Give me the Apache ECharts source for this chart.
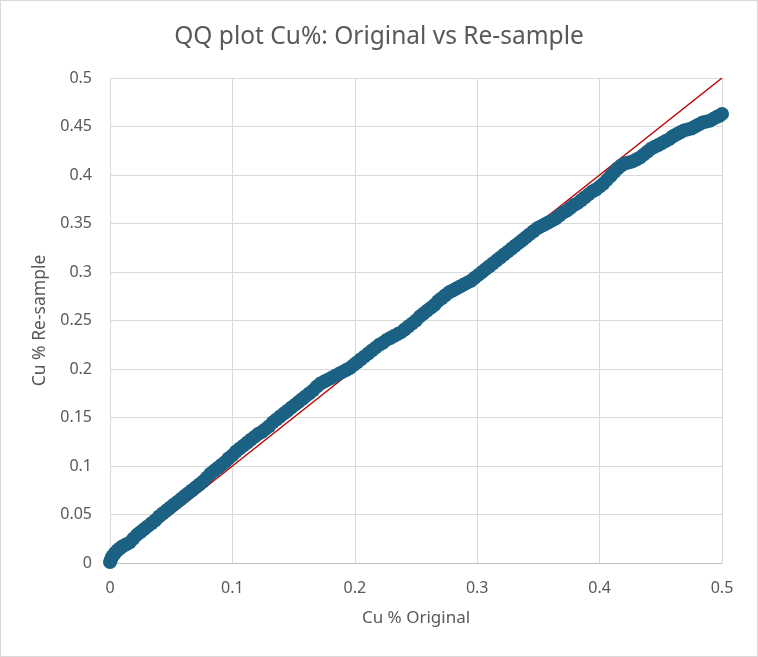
<!DOCTYPE html>
<html>
<head>
<meta charset="utf-8">
<title>QQ plot Cu%</title>
<script src="https://cdn.jsdelivr.net/npm/echarts@6/dist/echarts.min.js"></script>
<style>
    html, body { margin: 0; padding: 0; background: #fff; }
    #frame { position: absolute; left: 0; top: 0; width: 758px; height: 657px; box-sizing: border-box; border: 1px solid #d9d9d9; }
    #chart { width: 756px; height: 655px; }
</style>
</head>
<body>
<div id="frame"><div id="chart"></div></div>
<script>
/*分位数 - 原样 Cu%*/
var cuOriginal = [
    0.000, 0.001, 0.002, 0.004, 0.006, 0.008, 0.010, 0.013, 0.016, 0.019,
    0.022, 0.025, 0.028, 0.031, 0.034, 0.037, 0.040, 0.043, 0.046, 0.049,
    0.052, 0.055, 0.058, 0.061, 0.064, 0.067, 0.070, 0.073, 0.076, 0.079,
    0.082, 0.085, 0.088, 0.091, 0.094, 0.097, 0.100, 0.103, 0.106, 0.109,
    0.112, 0.115, 0.118, 0.121, 0.124, 0.127, 0.130, 0.133, 0.136, 0.139,
    0.142, 0.145, 0.148, 0.151, 0.154, 0.157, 0.160, 0.163, 0.166, 0.169,
    0.172, 0.175, 0.178, 0.181, 0.184, 0.187, 0.190, 0.193, 0.196, 0.199,
    0.202, 0.205, 0.208, 0.211, 0.214, 0.217, 0.220, 0.223, 0.226, 0.229,
    0.232, 0.235, 0.238, 0.241, 0.244, 0.247, 0.250, 0.253, 0.256, 0.259,
    0.262, 0.265, 0.268, 0.271, 0.274, 0.277, 0.280, 0.283, 0.286, 0.289,
    0.292, 0.295, 0.298, 0.301, 0.304, 0.307, 0.310, 0.313, 0.316, 0.319,
    0.322, 0.325, 0.328, 0.331, 0.334, 0.337, 0.340, 0.343, 0.346, 0.349,
    0.352, 0.355, 0.358, 0.361, 0.364, 0.367, 0.370, 0.373, 0.376, 0.379,
    0.382, 0.385, 0.388, 0.391, 0.394, 0.397, 0.400, 0.403, 0.406, 0.409,
    0.412, 0.415, 0.418, 0.421, 0.424, 0.427, 0.430, 0.433, 0.436, 0.439,
    0.442, 0.445, 0.448, 0.451, 0.454, 0.457, 0.460, 0.463, 0.466, 0.469,
    0.472, 0.475, 0.478, 0.481, 0.484, 0.487, 0.490, 0.493, 0.496, 0.498,
    0.500
];

/*分位数 - 重采样 Cu%*/
var cuResample = [
    0.001, 0.004, 0.007, 0.010, 0.013, 0.015, 0.017, 0.019, 0.021, 0.025,
    0.029, 0.032, 0.035, 0.038, 0.041, 0.044, 0.048, 0.051, 0.054, 0.057,
    0.060, 0.063, 0.066, 0.069, 0.072, 0.075, 0.078, 0.081, 0.084, 0.088,
    0.092, 0.095, 0.098, 0.101, 0.104, 0.108, 0.111, 0.115, 0.118, 0.121,
    0.124, 0.127, 0.130, 0.133, 0.135, 0.138, 0.141, 0.145, 0.148, 0.151,
    0.154, 0.157, 0.160, 0.163, 0.166, 0.169, 0.172, 0.175, 0.178, 0.182,
    0.185, 0.187, 0.189, 0.191, 0.193, 0.195, 0.197, 0.199, 0.201, 0.204,
    0.207, 0.210, 0.213, 0.216, 0.219, 0.222, 0.225, 0.227, 0.230, 0.232,
    0.234, 0.236, 0.238, 0.241, 0.244, 0.247, 0.250, 0.254, 0.257, 0.260,
    0.263, 0.266, 0.270, 0.273, 0.276, 0.279, 0.281, 0.283, 0.285, 0.287,
    0.289, 0.291, 0.294, 0.297, 0.300, 0.303, 0.306, 0.309, 0.312, 0.315,
    0.318, 0.321, 0.324, 0.327, 0.330, 0.333, 0.336, 0.339, 0.342, 0.345,
    0.347, 0.349, 0.351, 0.353, 0.355, 0.358, 0.361, 0.363, 0.366, 0.369,
    0.371, 0.374, 0.377, 0.380, 0.383, 0.385, 0.388, 0.391, 0.395, 0.399,
    0.403, 0.407, 0.410, 0.412, 0.413, 0.414, 0.416, 0.418, 0.421, 0.424,
    0.427, 0.429, 0.431, 0.433, 0.435, 0.437, 0.440, 0.442, 0.444, 0.446,
    0.447, 0.448, 0.450, 0.452, 0.454, 0.455, 0.456, 0.458, 0.460, 0.461,
    0.463
];

/*1:1 参考线*/
var refLineX = [0, 0.5];
var refLineY = [0, 0.5];

var textColor = '#595959';
var fontName = "'Noto Sans', sans-serif";

function toPairs(xs, ys) {
    var out = [];
    for (var i = 0; i < xs.length; i++) out.push([xs[i], ys[i]]);
    return out;
}

function fmt(v) {
    return String(parseFloat(v.toFixed(2)));
}

var myChart = echarts.init(document.getElementById('chart'), null, {renderer: 'canvas'});

var option = {
    backgroundColor: '#fff',
    animation: false,
    title: {
        text: 'QQ plot Cu%: Original vs Re-sample',
        left: 'center',
        top: 19,
        textStyle: { color: textColor, fontSize: 24.5, fontWeight: 'normal', fontFamily: fontName }
    },
    grid: { left: 109, right: 35, top: 77, bottom: 93 },
    xAxis: {
        type: 'value',
        min: 0, max: 0.5, interval: 0.1,
        name: 'Cu % Original',
        nameLocation: 'middle',
        nameGap: 47,
        nameTextStyle: { color: textColor, fontSize: 17, fontFamily: fontName },
        axisLine: { show: true, lineStyle: { color: '#bfbfbf', width: 1 } },
        axisTick: { show: false },
        axisLabel: { color: textColor, fontSize: 16, fontFamily: fontName, margin: 17, formatter: fmt },
        splitLine: { show: true, lineStyle: { color: '#d9d9d9', width: 1 } }
    },
    yAxis: {
        type: 'value',
        min: 0, max: 0.5, interval: 0.05,
        name: 'Cu % Re-sample',
        nameLocation: 'middle',
        nameGap: 59,
        nameTextStyle: { color: textColor, fontSize: 17.5, fontFamily: fontName },
        axisLine: { show: false },
        axisTick: { show: false },
        axisLabel: { color: textColor, fontSize: 16, fontFamily: fontName, margin: 18, formatter: fmt },
        splitLine: { show: true, lineStyle: { color: '#d9d9d9', width: 1 } }
    },
    series: [
        {
            type: 'line',
            data: toPairs(refLineX, refLineY),
            symbol: 'none',
            lineStyle: { color: '#c00000', width: 1.5 },
            z: 2
        },
        {
            type: 'scatter',
            data: toPairs(cuOriginal, cuResample),
            symbol: 'circle',
            symbolSize: 14,
            itemStyle: { color: '#1b6183', opacity: 1 },
            z: 3
        }
    ]
};

myChart.setOption(option);
</script>
</body>
</html>
